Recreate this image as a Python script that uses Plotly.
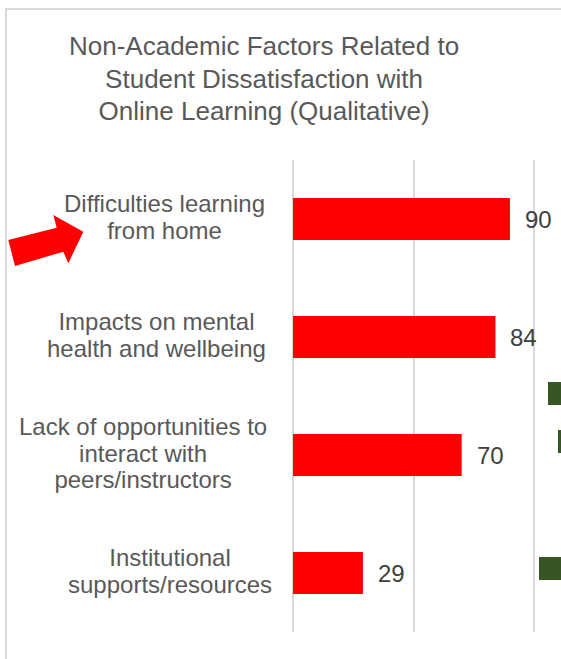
import plotly.graph_objects as go

categories = [
    "Difficulties learning<br>from home",
    "Impacts on mental<br>health and wellbeing",
    "Lack of opportunities to<br>interact with<br>peers/instructors",
    "Institutional<br>supports/resources",
]
values = [90, 84, 70, 29]
grid_ticks = [0, 50, 100]
title_text = "Non-Academic Factors Related to<br>Student Dissatisfaction with<br>Online Learning (Qualitative)"

W, H = 561, 659
L, R, T, B = 293, 0, 160, 27
PW, PH = W - L - R, H - T - B
XMAX = PW / 2.41

def px(x):
    return (x - L) / PW

def py(y):
    return (H - B - y) / PH

def sized(text, size):
    return "<br>".join(f"<span style='font-size:{size}px'>{ln}</span>" for ln in text.split("<br>"))

FONT = "Liberation Sans, Arial, sans-serif"
label_nudge = [-26, -25, -24, -19]

fig = go.Figure()
fig.add_trace(go.Bar(
    x=values, y=categories, orientation="h",
    marker=dict(color="#FF0000", line=dict(width=0)),
    width=0.356, hoverinfo="skip",
))

annotations = []
for c, nx in zip(categories, label_nudge):
    annotations.append(dict(
        x=0, xref="paper", y=c, yref="y", text=sized(c, 24), showarrow=False,
        xanchor="right", yanchor="middle", align="center", xshift=nx, yshift=2,
        font=dict(family=FONT, size=20.5, color="#595959"),
    ))
for c, v in zip(categories, values):
    annotations.append(dict(
        x=v, xref="x", y=c, yref="y", text=str(v), showarrow=False,
        xanchor="left", yanchor="middle", xshift=13,
        font=dict(family=FONT, size=24, color="#404040"),
    ))
annotations.append(dict(
    x=px(264), xref="paper", y=py(79), yref="paper", text=sized(title_text, 26),
    showarrow=False, xanchor="center", yanchor="middle", align="center",
    font=dict(family=FONT, size=25, color="#595959"),
))

arrow_pts = [(8.3, 240), (56.7, 227.7), (53.3, 215), (83.3, 231.7),
             (68.3, 263.3), (63.3, 251.7), (15, 266)]
path = "M " + " L ".join(f"{px(a):.5f},{py(b):.5f}" for a, b in arrow_pts) + " Z"

shapes = [
    dict(type="rect", xref="paper", yref="paper",
         x0=px(6), x1=px(W + 20), y0=py(H + 20), y1=py(9),
         line=dict(color="#D9D9D9", width=2), fillcolor="rgba(0,0,0,0)", layer="below"),
    dict(type="path", xref="paper", yref="paper", path=path,
         fillcolor="#FF0000", line=dict(width=0)),
    dict(type="rect", xref="paper", yref="paper",
         x0=px(548), x1=px(W + 5), y0=py(405), y1=py(382),
         fillcolor="#375623", line=dict(width=0)),
    dict(type="rect", xref="paper", yref="paper",
         x0=px(558), x1=px(W + 5), y0=py(453), y1=py(430),
         fillcolor="#375623", line=dict(width=0)),
    dict(type="rect", xref="paper", yref="paper",
         x0=px(539), x1=px(W + 5), y0=py(580), y1=py(557),
         fillcolor="#375623", line=dict(width=0)),
]

fig.update_layout(
    width=W, height=H, autosize=False,
    margin=dict(l=L, r=R, t=T, b=B, pad=0),
    paper_bgcolor="white", plot_bgcolor="white",
    showlegend=False,
    xaxis=dict(range=[0, XMAX], tickvals=grid_ticks, showticklabels=False,
               showgrid=True, gridcolor="#D9D9D9", gridwidth=1.5,
               zeroline=True, zerolinecolor="#D9D9D9", zerolinewidth=1.5,
               showline=False, ticks="", fixedrange=True),
    yaxis=dict(categoryorder="array", categoryarray=categories, autorange="reversed",
               showticklabels=False, showgrid=False, zeroline=False, showline=False,
               ticks="", fixedrange=True),
    annotations=annotations,
    shapes=shapes,
)

fig.write_html(
    "out.html",
    config={"displayModeBar": False},
    post_script="document.body.style.margin='0';document.body.style.overflow='hidden';",
)
